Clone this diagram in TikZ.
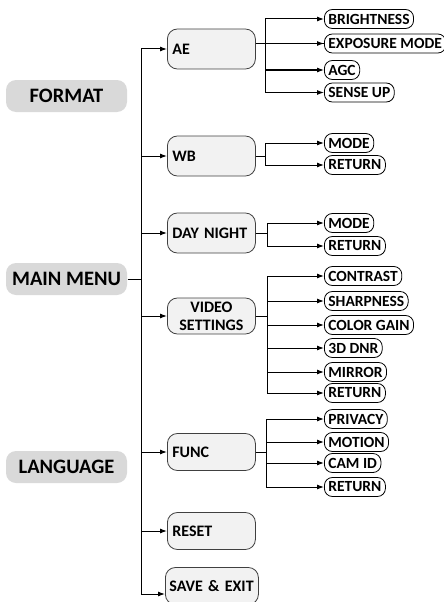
\documentclass[tikz,border=0pt]{standalone}
\usepackage{fontspec}
\setmainfont{Carlito}
\usetikzlibrary{arrows.meta}

\begin{document}
\begin{tikzpicture}[x=1pt,y=-1pt,>={Latex[length=7pt,width=5pt]},line width=1pt,
                    font=\bfseries]
  \tikzstyle{top}=[fill=black!15,rounded corners=10pt,minimum width=121pt,
                   minimum height=32pt,font=\fontsize{20.5}{21}\selectfont\bfseries]
  \tikzstyle{sub}=[draw=black!75,fill=black!5,line width=0.8pt,rounded corners=10pt,
                   anchor=west,minimum height=40pt,inner xsep=5pt,text width=78pt,
                   align=left,font=\fontsize{16}{18}\selectfont\bfseries]
  \tikzstyle{item}=[draw=black,fill=white,line width=0.8pt,rounded corners=8pt,
                    anchor=west,minimum height=19pt,inner xsep=4pt,inner ysep=0pt,
                    font=\fontsize{15.5}{16}\selectfont\bfseries]

  \useasboundingbox (0,0) rectangle (444,602);

  % left column
  \node[top] (format)   at (66.5,96)  {FORMAT};
  \node[top] (main)     at (66.5,279) {MAIN MENU};
  \node[top] (language) at (66.5,467) {LANGUAGE};
  \coordinate (trunk) at (141,279);

  % menu pages
  \node[sub] (ae)    at (167,49)  {AE};
  \node[sub] (wb)    at (167,156) {WB};
  \node[sub] (day)   at (167,233) {DAY NIGHT};
  \node[sub,minimum height=36pt,align=center] (video) at (167,316) {VIDEO\\SETTINGS};
  \node[sub,minimum height=37pt] (func)  at (167,452) {FUNC};
  \node[sub,minimum height=37pt] (reset) at (167,531) {RESET};
  \node[sub,minimum height=37pt,text width=85pt,inner xsep=4pt] (save) at (165,586) {SAVE \& EXIT};

  % submenu items
  \node[item] (bright)   at (324,19)   {BRIGHTNESS};
  \node[item] (expo)     at (324,43.5) {EXPOSURE MODE};
  \node[item] (agc)      at (324,70)   {AGC};
  \node[item] (sense)    at (324,92.5) {SENSE UP};
  \node[item] (wbmode)   at (324,143)  {MODE};
  \node[item] (wbret)    at (324,165)  {RETURN};
  \node[item] (dnmode)   at (324,223)  {MODE};
  \node[item] (dnret)    at (324,246)  {RETURN};
  \node[item] (contrast) at (324,276)  {CONTRAST};
  \node[item] (sharp)    at (324,301)  {SHARPNESS};
  \node[item] (color)    at (324,325)  {COLOR GAIN};
  \node[item] (dnr)      at (324,348)  {3D DNR};
  \node[item] (mirror)   at (324,372)  {MIRROR};
  \node[item] (vret)     at (324,393)  {RETURN};
  \node[item] (privacy)  at (324,419)  {PRIVACY};
  \node[item] (motion)   at (324,442)  {MOTION};
  \node[item] (camid)    at (324,463)  {CAM ID};
  \node[item] (fret)     at (324,487)  {RETURN};

  % connectors
  \draw (main) -- (trunk);
  \foreach \n in {ae,wb,day,video,func,reset}
    \draw[->] (trunk) |- (\n.west);
  \draw[->] (trunk) |- ([yshift=-8pt]save.west);

  \draw (ae.east |- expo.west) -- (expo.west);
  \foreach \c in {bright,expo,agc,sense}
    \draw[->] (ae.east |- expo.west) ++(10,0) |- (\c.west);
  \foreach \c in {wbmode,wbret}
    \draw[->] (wb.east) -- ++(10,0) |- (\c.west);
  \foreach \c in {dnmode,dnret}
    \draw[->] (day.east) -- ++(12,0) |- (\c.west);
  \foreach \c in {contrast,sharp,color,dnr,mirror,vret}
    \draw[->] (video.east) -- ++(12,0) |- (\c.west);
  \foreach \c in {privacy,motion,camid,fret}
    \draw[->] (func.east) -- ++(11,0) |- (\c.west);
\end{tikzpicture}
\end{document}
